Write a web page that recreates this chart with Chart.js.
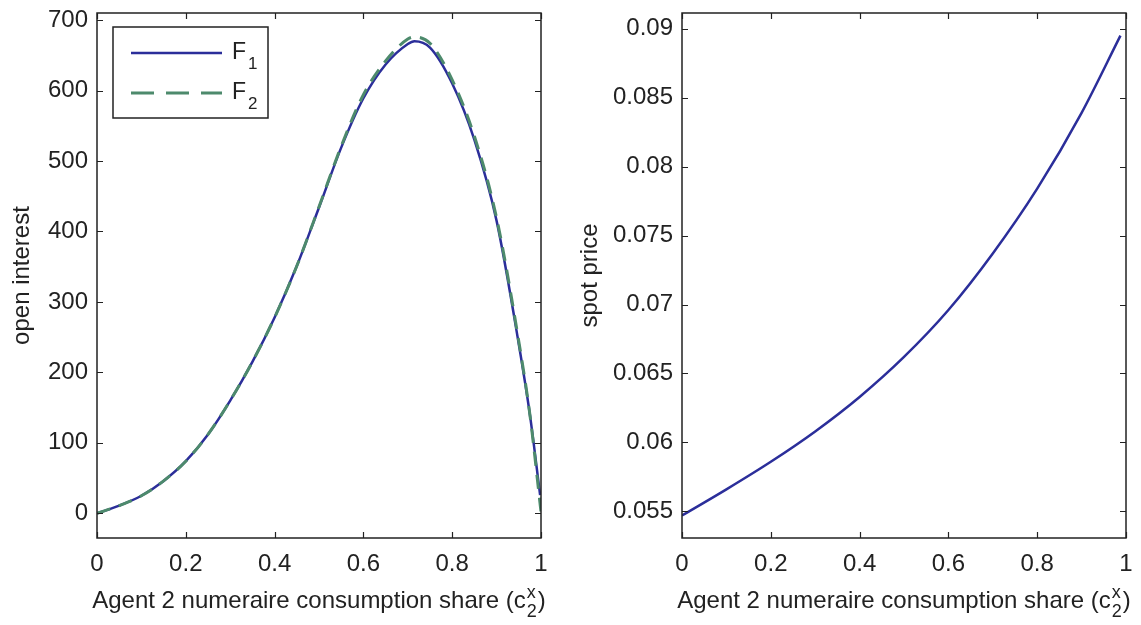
<!DOCTYPE html>
<html>
<head>
<meta charset="utf-8">
<script src="https://cdn.jsdelivr.net/npm/chart.js@4/dist/chart.umd.min.js"></script>
<style>
  html, body { margin: 0; padding: 0; background: #fff; }
  #wrap { position: relative; width: 1141px; height: 625px; overflow: hidden; }
  canvas { position: absolute; top: 0; }
  #izq { left: 0; }
  #der { left: 570px; }
</style>
</head>
<body>
<div id="wrap">
  <canvas id="izq" width="570" height="625"></canvas>
  <canvas id="der" width="571" height="625"></canvas>
</div>
<script>
// datos
const xF1 = [0, 0.05, 0.1, 0.15, 0.2, 0.25, 0.3, 0.35, 0.4, 0.45, 0.5, 0.55, 0.6, 0.65, 0.7, 0.715, 0.75, 0.8, 0.85, 0.9, 0.95, 0.975, 0.998];
const valF1 = [0, 11, 25, 46, 74, 112, 160, 215, 278, 351, 434, 519, 589, 637, 666, 670, 661, 610, 530, 415, 240, 140, 26];
const xF2 = [0, 0.05, 0.1, 0.15, 0.2, 0.25, 0.3, 0.35, 0.4, 0.45, 0.5, 0.55, 0.6, 0.65, 0.7, 0.715, 0.75, 0.8, 0.85, 0.9, 0.95, 0.975, 1];
const valF2 = [0, 11, 25, 46, 74, 112, 160, 215, 278, 351, 435, 521, 594, 642, 673, 676, 667, 615, 535, 419, 244, 140, 2];

const xSpot = [0, 0.1, 0.2, 0.3, 0.4, 0.5, 0.6, 0.7, 0.8, 0.9, 0.9875];
const valSpot = [0.0547, 0.0566, 0.0586, 0.0608, 0.0633, 0.0662, 0.0696, 0.0737, 0.0784, 0.0839, 0.0895];

const xTicks = [0, 0.2, 0.4, 0.6, 0.8, 1];
const yTicksOI = [0, 100, 200, 300, 400, 500, 600, 700];
const yTicksSpot = [0.055, 0.06, 0.065, 0.07, 0.075, 0.08, 0.085, 0.09];

const legendLabels = ['F', 'F'];
const legendSubs = ['1', '2'];
const xTitle = 'Agent 2 numeraire consumption share (c';

const AZUL = '#2b2e9a';
const VERDE = '#4d8a6c';
const TINTA = '#222222';
const FUENTE = '"Liberation Sans", Arial, Helvetica, sans-serif';

function pares(xs, ys) {
  return xs.map((x, i) => ({ x: x, y: ys[i] }));
}

// marco con marcas hacia dentro en los 4 lados
const marco = {
  id: 'marco',
  afterDatasetsDraw(chart) {
    const { ctx, chartArea: a, scales: { x, y } } = chart;
    ctx.save();
    ctx.strokeStyle = TINTA;
    ctx.lineWidth = 1.5;
    ctx.strokeRect(a.left, a.top, a.right - a.left, a.bottom - a.top);
    ctx.beginPath();
    x.ticks.forEach(t => {
      const px = Math.round(x.getPixelForValue(t.value)) + 0.5;
      ctx.moveTo(px, a.bottom); ctx.lineTo(px, a.bottom - 6);
      ctx.moveTo(px, a.top); ctx.lineTo(px, a.top + 6);
    });
    y.ticks.forEach(t => {
      const py = Math.round(y.getPixelForValue(t.value)) + 0.5;
      ctx.moveTo(a.left, py); ctx.lineTo(a.left + 6, py);
      ctx.moveTo(a.right, py); ctx.lineTo(a.right - 6, py);
    });
    ctx.lineWidth = 1.2;
    ctx.stroke();
    ctx.restore();
  }
};

// títulos de ejes (con c sub 2 sup x)
const titulos = {
  id: 'titulos',
  afterDraw(chart, args, opts) {
    const { ctx, chartArea: a } = chart;
    ctx.save();
    ctx.fillStyle = TINTA;
    ctx.textBaseline = 'alphabetic';
    ctx.textAlign = 'left';
    ctx.font = '24px ' + FUENTE;
    const wMain = ctx.measureText(xTitle).width;
    const wClose = ctx.measureText(')').width;
    ctx.font = '18px ' + FUENTE;
    const wScr = Math.max(ctx.measureText('x').width, ctx.measureText('2').width);
    const total = wMain + wScr + 2 + wClose;
    const x0 = (a.left + a.right) / 2 - total / 2;
    const base = 608;
    ctx.font = '24px ' + FUENTE;
    ctx.fillText(xTitle, x0, base);
    ctx.fillText(')', x0 + wMain + wScr + 2, base);
    ctx.font = '18px ' + FUENTE;
    ctx.fillText('x', x0 + wMain + 1, base - 10);
    ctx.fillText('2', x0 + wMain + 1, base + 9);

    ctx.font = '24px ' + FUENTE;
    ctx.translate(opts.yX, (a.top + a.bottom) / 2);
    ctx.rotate(-Math.PI / 2);
    ctx.textAlign = 'center';
    ctx.fillText(opts.yText, 0, 0);
    ctx.restore();
  }
};

// leyenda dentro del eje, arriba a la izquierda
const leyenda = {
  id: 'leyenda',
  afterDraw(chart) {
    const { ctx, chartArea: a } = chart;
    const bx = a.left + 16, by = a.top + 14, bw = 155, bh = 91;
    ctx.save();
    ctx.fillStyle = '#fff';
    ctx.fillRect(bx, by, bw, bh);
    ctx.strokeStyle = TINTA;
    ctx.lineWidth = 1.5;
    ctx.strokeRect(bx, by, bw, bh);
    chart.data.datasets.forEach((ds, i) => {
      const ly = by + 26 + i * 40;
      ctx.beginPath();
      ctx.strokeStyle = ds.borderColor;
      ctx.lineWidth = ds.borderWidth;
      ctx.setLineDash(i === 1 ? [23, 12] : []);
      ctx.moveTo(bx + 18, ly);
      ctx.lineTo(bx + 109, ly);
      ctx.stroke();
      ctx.setLineDash([]);
      ctx.fillStyle = TINTA;
      ctx.textAlign = 'left';
      ctx.textBaseline = 'alphabetic';
      ctx.font = '23px ' + FUENTE;
      ctx.fillText(legendLabels[i], bx + 119, ly + 6);
      const wF = ctx.measureText(legendLabels[i]).width;
      ctx.font = '17px ' + FUENTE;
      ctx.fillText(legendSubs[i], bx + 119 + wF + 2, ly + 16);
    });
    ctx.restore();
  }
};

function ejes(yMin, yMax, yTicks, yAncho) {
  const fuenteTicks = { family: FUENTE, size: 24 };
  const fmt = v => String(+(+v).toFixed(4));
  return {
    x: {
      type: 'linear', min: 0, max: 1,
      grid: { display: false, drawTicks: false },
      border: { display: false },
      ticks: { font: fuenteTicks, color: TINTA, padding: 12, callback: fmt, maxRotation: 0 },
      afterBuildTicks: s => { s.ticks = xTicks.map(v => ({ value: v })); },
      afterFit: s => { s.height = 87; s.paddingLeft = 0; s.paddingRight = 0; }
    },
    y: {
      type: 'linear', min: yMin, max: yMax,
      grid: { display: false, drawTicks: false },
      border: { display: false },
      ticks: { font: fuenteTicks, color: TINTA, padding: 9, callback: fmt },
      afterBuildTicks: s => { s.ticks = yTicks.map(v => ({ value: v })); },
      afterFit: s => { s.width = yAncho; s.paddingTop = 0; s.paddingBottom = 0; }
    }
  };
}

new Chart(document.getElementById('izq'), {
  type: 'line',
  data: {
    datasets: [
      { label: 'F1', data: pares(xF1, valF1), borderColor: AZUL, borderWidth: 2.5, pointRadius: 0, cubicInterpolationMode: 'monotone', order: 2 },
      { label: 'F2', data: pares(xF2, valF2), borderColor: VERDE, borderWidth: 3, borderDash: [14, 9], pointRadius: 0, cubicInterpolationMode: 'monotone', order: 1 }
    ]
  },
  options: {
    responsive: false, animation: false,
    layout: { padding: { top: 13, right: 29, left: 0, bottom: 0 } },
    plugins: { legend: { display: false }, tooltip: { enabled: false }, titulos: { yText: 'open interest', yX: 29 } },
    scales: ejes(-35, 710, yTicksOI, 97)
  },
  plugins: [marco, titulos, leyenda]
});

new Chart(document.getElementById('der'), {
  type: 'line',
  data: {
    datasets: [
      { label: 'spot', data: pares(xSpot, valSpot), borderColor: AZUL, borderWidth: 2.5, pointRadius: 0, cubicInterpolationMode: 'monotone' }
    ]
  },
  options: {
    responsive: false, animation: false,
    layout: { padding: { top: 13, right: 15, left: 0, bottom: 0 } },
    plugins: { legend: { display: false }, tooltip: { enabled: false }, titulos: { yText: 'spot price', yX: 27 } },
    scales: ejes(0.05307, 0.09114, yTicksSpot, 112)
  },
  plugins: [marco, titulos]
});
</script>
</body>
</html>
